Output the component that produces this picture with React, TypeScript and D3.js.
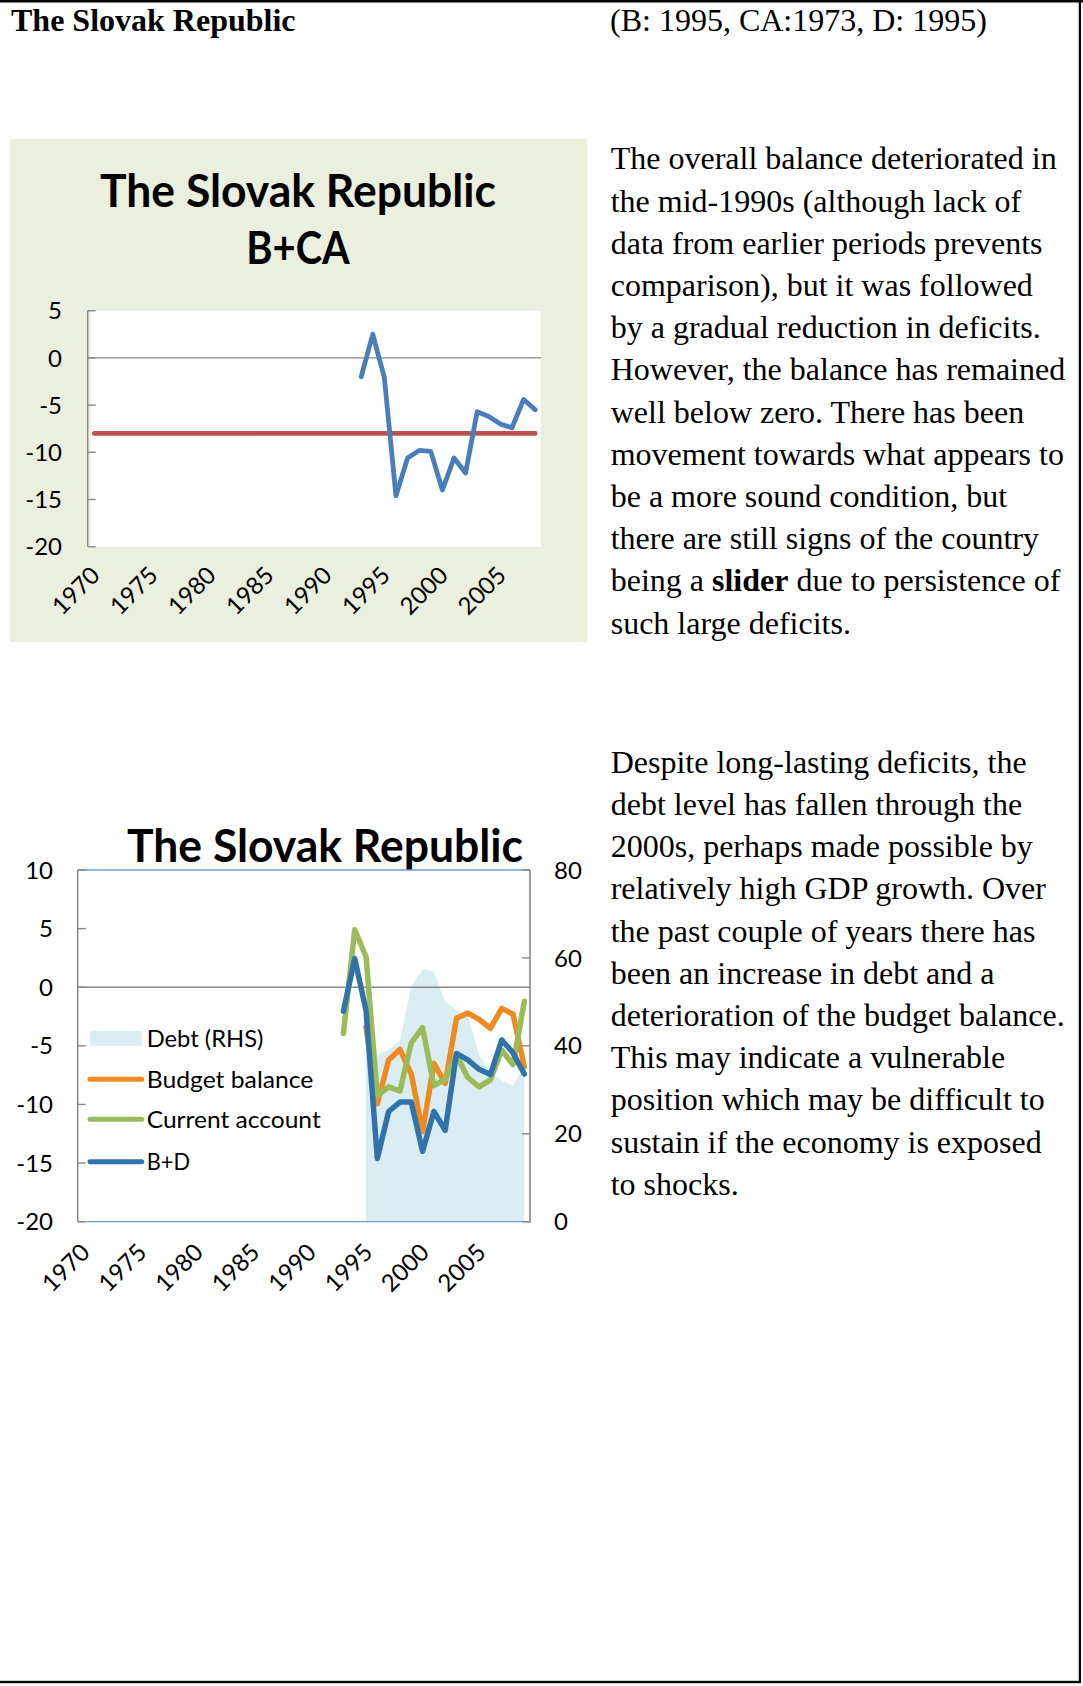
import React from "react";
import * as d3 from "d3";

const W = 1083;
const H = 1686;

// ---------- data ----------
const categories1 = [
  "1970","1971","1972","1973","1974","1975","1976","1977","1978","1979",
  "1980","1981","1982","1983","1984","1985","1986","1987","1988","1989",
  "1990","1991","1992","1993","1994","1995","1996","1997","1998","1999",
  "2000","2001","2002","2003","2004","2005","2006","2007","2008",
];
const categories2 = [
  "1970","1971","1972","1973","1974","1975","1976","1977","1978","1979",
  "1980","1981","1982","1983","1984","1985","1986","1987","1988","1989",
  "1990","1991","1992","1993","1994","1995","1996","1997","1998","1999",
  "2000","2001","2002","2003","2004","2005","2006","2007","2008","2009",
];
const xTickLabels = ["1970","1975","1980","1985","1990","1995","2000","2005"];
const yTicks1 = [5, 0, -5, -10, -15, -20];
const yTicksLeft2 = [10, 5, 0, -5, -10, -15, -20];
const yTicksRight2 = [80, 60, 40, 20, 0];

// Chart 1: B+CA
const bcaYears = ["1993","1994","1995","1996","1997","1998","1999","2000","2001","2002","2003","2004","2005","2006","2007","2008"];
const bcaValues = [-2.0, 2.5, -2.1, -14.6, -10.6, -9.8, -9.9, -14.0, -10.6, -12.2, -5.7, -6.2, -7.0, -7.4, -4.4, -5.5];
const benchmarkValue = -8;

// Chart 2
const bdYears = ["1993","1994","1995","1996","1997","1998","1999","2000","2001","2002","2003","2004","2005","2006","2007","2008","2009"];
const bdValues = [-2.05, 2.45, -2.0, -14.6, -10.6, -9.8, -9.8, -14.0, -10.6, -12.2, -5.65, -6.2, -7.0, -7.45, -4.5, -5.6, -7.4];
const caValues = [-3.95, 4.9, 2.6, -9.25, -8.5, -8.85, -4.75, -3.45, -8.4, -7.85, -5.8, -7.7, -8.5, -7.9, -5.35, -6.6, -1.2];
const budgetYears = ["1995","1996","1997","1998","1999","2000","2001","2002","2003","2004","2005","2006","2007","2008","2009"];
const budgetValues = [-3.4, -9.95, -6.2, -5.3, -7.4, -12.3, -6.5, -8.2, -2.65, -2.2, -2.75, -3.5, -1.8, -2.3, -6.8];
const debtValues = [37.5, 37.9, 39.1, 41.3, 53.5, 57.4, 56.9, 50.0, 48.2, 47.0, 37.9, 33.8, 32.2, 30.9, 35.3];

const legendLabels = ["Debt (RHS)", "Budget balance", "Current account", "B+D"];

const para1: (string | { b: string })[][] = [
  ["The overall balance deteriorated in"],
  ["the mid-1990s (although lack of"],
  ["data from earlier periods prevents"],
  ["comparison), but it was followed"],
  ["by a gradual reduction in deficits."],
  ["However, the balance has remained"],
  ["well below zero. There has been"],
  ["movement towards what appears to"],
  ["be a more sound condition, but"],
  ["there are still signs of the country"],
  ["being a ", { b: "slider" }, " due to persistence of"],
  ["such large deficits."],
];
const para2: string[] = [
  "Despite long-lasting deficits, the",
  "debt level has fallen through the",
  "2000s, perhaps made possible by",
  "relatively high GDP growth. Over",
  "the past couple of years there has",
  "been an increase in debt and a",
  "deterioration of the budget balance.",
  "This may indicate a vulnerable",
  "position which may be difficult to",
  "sustain if the economy is exposed",
  "to shocks.",
];

// ---------- styles ----------
const SERIF = "'Liberation Serif', 'Times New Roman', serif";
const SANS = "Lato, 'Open Sans', sans-serif";
const AXIS = "#878787";
const TICK_FS = 24;

export default function App() {
  // Chart 1 scales
  const x1 = d3.scalePoint<string>().domain(categories1).range([88.5, 541]).padding(0.5);
  const y1 = d3.scaleLinear().domain([-20, 5]).range([546.7, 310.7]);
  const line1 = d3
    .line<[string, number]>()
    .x((d) => x1(d[0]) as number)
    .y((d) => y1(d[1]));
  const bcaPts: [string, number][] = bcaYears.map((yr, i) => [yr, bcaValues[i]]);
  const benchPts: [string, number][] = [
    [categories1[0], benchmarkValue],
    [categories1[categories1.length - 1], benchmarkValue],
  ];

  // Chart 2 scales
  const L2 = 77.7, R2 = 530, T2 = 870, B2 = 1221.7;
  const x2 = d3.scalePoint<string>().domain(categories2).range([L2, R2]).padding(0.5);
  const y2 = d3.scaleLinear().domain([-20, 10]).range([B2, T2]);
  const y2r = d3.scaleLinear().domain([0, 80]).range([B2, T2]);
  const line2 = d3
    .line<[string, number]>()
    .x((d) => x2(d[0]) as number)
    .y((d) => y2(d[1]));
  const area2 = d3
    .area<[string, number]>()
    .x((d) => x2(d[0]) as number)
    .y0(y2r(0))
    .y1((d) => y2r(d[1]));
  const debtPts: [string, number][] = budgetYears.map((yr, i) => [yr, debtValues[i]]);
  const budgetPts: [string, number][] = budgetYears.map((yr, i) => [yr, budgetValues[i]]);
  const caPts: [string, number][] = bdYears.map((yr, i) => [yr, caValues[i]]);
  const bdPts: [string, number][] = bdYears.map((yr, i) => [yr, bdValues[i]]);

  const legendColors = ["#DAEDF3", "#EF8A22", "#9BBB59", "#3172AA"];
  const legendY = [1038.4, 1079.3, 1119.3, 1161.7];
  const legendTextLen = [116.7, 166.7, 174, 43.3];

  return (
    <div style={{ position: "absolute", left: 0, top: 0 }}>
      <svg width={W} height={H} viewBox={`0 0 ${W} ${H}`} style={{ display: "block", background: "#fff" }}>
        {/* page borders */}
        <rect x={0} y={0} width={W} height={2.5} fill="#000" />
        <rect x={1078.8} y={0} width={2.2} height={1683} fill="#000" />
        <rect x={0} y={1680.8} width={1081} height={2.4} fill="#000" />

        {/* header */}
        <text x={11} y={31} fontFamily={SERIF} fontSize={32} fontWeight="bold" fill="#000">
          The Slovak Republic
        </text>
        <text x={610} y={31} fontFamily={SERIF} fontSize={32} fill="#000">
          (B: 1995, CA:1973, D: 1995)
        </text>

        {/* ---------- Chart 1 ---------- */}
        <rect x={10} y={139} width={577} height={503} fill="#EBEFDE" />
        <rect x={90.7} y={310.7} width={450.3} height={236} fill="#fff" />
        <text x={298} y={206.5} textAnchor="middle" fontFamily={SANS} fontWeight="bold" fontSize={45}
          textLength={396} lengthAdjust="spacingAndGlyphs" fill="#000">
          The Slovak Republic
        </text>
        <text x={298} y={263.5} textAnchor="middle" fontFamily={SANS} fontWeight="bold" fontSize={45}
          textLength={103.5} lengthAdjust="spacingAndGlyphs" fill="#000">
          B+CA
        </text>
        {/* zero line */}
        <line x1={87.7} x2={541} y1={y1(0)} y2={y1(0)} stroke={AXIS} strokeWidth={1.4} />
        {/* y axis */}
        <line x1={87.7} x2={87.7} y1={y1(5)} y2={y1(-20)} stroke={AXIS} strokeWidth={1.4} />
        {yTicks1.map((t) => (
          <g key={"y1" + t}>
            <line x1={87.7} x2={95.7} y1={y1(t)} y2={y1(t)} stroke={AXIS} strokeWidth={1.4} />
            <text x={62} y={y1(t)} dy="0.36em" textAnchor="end" fontFamily={SANS} fontSize={TICK_FS} fill="#000">
              {t}
            </text>
          </g>
        ))}
        {xTickLabels.map((lab) => {
          const cx = x1(lab) as number;
          return (
            <text key={"x1" + lab} transform={`translate(${cx + 1},${546.7 + 24}) rotate(-45)`} dy="0.36em"
              textAnchor="end" fontFamily={SANS} fontSize={TICK_FS} fill="#000">
              {lab}
            </text>
          );
        })}
        <path d={line1(benchPts) || ""} fill="none" stroke="#C0504D" strokeWidth={4.6} strokeLinecap="round" />
        <path d={line1(bcaPts) || ""} fill="none" stroke="#4A7EBB" strokeWidth={4.8} strokeLinecap="round" strokeLinejoin="round" />

        {/* chart 1 text */}
        <g fontFamily={SERIF} fontSize={32} fill="#000">
          {para1.map((ln, i) => (
            <text key={"p1" + i} x={610.7} y={169.3 + i * 42.2}>
              {ln.map((part, j) =>
                typeof part === "string" ? (
                  <tspan key={j}>{part}</tspan>
                ) : (
                  <tspan key={j} fontWeight="bold">{part.b}</tspan>
                )
              )}
            </text>
          ))}
        </g>

        {/* ---------- Chart 2 ---------- */}
        <text x={325} y={861.7} textAnchor="middle" fontFamily={SANS} fontWeight="bold" fontSize={45}
          textLength={396} lengthAdjust="spacingAndGlyphs" fill="#000">
          The Slovak Republic
        </text>
        <path d={area2(debtPts) || ""} fill="#DAEDF3" stroke="none" />
        {/* plot border top/bottom */}
        <line x1={L2} x2={R2} y1={T2} y2={T2} stroke="#6E9CD3" strokeWidth={1.3} />
        <line x1={L2} x2={R2} y1={B2} y2={B2} stroke="#6E9CD3" strokeWidth={1.3} />
        {/* zero line */}
        <line x1={L2} x2={R2} y1={y2(0)} y2={y2(0)} stroke={AXIS} strokeWidth={1.4} />
        {/* left axis */}
        <line x1={L2} x2={L2} y1={T2} y2={B2} stroke={AXIS} strokeWidth={1.5} />
        {yTicksLeft2.map((t) => (
          <g key={"yl" + t}>
            <line x1={L2} x2={L2 + 8} y1={y2(t)} y2={y2(t)} stroke={AXIS} strokeWidth={1.4} />
            <text x={53} y={y2(t)} dy="0.36em" textAnchor="end" fontFamily={SANS} fontSize={TICK_FS} fill="#000">
              {t}
            </text>
          </g>
        ))}
        {/* right axis */}
        <line x1={R2} x2={R2} y1={T2} y2={B2 + 1} stroke={AXIS} strokeWidth={1.6} />
        {yTicksRight2.map((t) => (
          <g key={"yr" + t}>
            <line x1={R2 - 8} x2={R2} y1={y2r(t)} y2={y2r(t)} stroke={AXIS} strokeWidth={1.4} />
            <text x={554} y={y2r(t)} dy="0.36em" textAnchor="start" fontFamily={SANS} fontSize={TICK_FS} fill="#000">
              {t}
            </text>
          </g>
        ))}
        {xTickLabels.map((lab) => {
          const cx = x2(lab) as number;
          return (
            <text key={"x2" + lab} transform={`translate(${cx + 2},${B2 + 26}) rotate(-45)`} dy="0.36em"
              textAnchor="end" fontFamily={SANS} fontSize={TICK_FS} fill="#000">
              {lab}
            </text>
          );
        })}
        <path d={line2(budgetPts) || ""} fill="none" stroke="#EF8A22" strokeWidth={5.5} strokeLinecap="round" strokeLinejoin="round" />
        <path d={line2(caPts) || ""} fill="none" stroke="#9BBB59" strokeWidth={5.5} strokeLinecap="round" strokeLinejoin="round" />
        <path d={line2(bdPts) || ""} fill="none" stroke="#3172AA" strokeWidth={5.5} strokeLinecap="round" strokeLinejoin="round" />

        {/* legend */}
        {legendLabels.map((lab, i) => (
          <g key={"lg" + i}>
            {i === 0 ? (
              <rect x={90} y={legendY[i] - 7.4} width={51.7} height={14.8} fill={legendColors[i]} />
            ) : (
              <line x1={90} x2={141.7} y1={legendY[i]} y2={legendY[i]} stroke={legendColors[i]} strokeWidth={5} strokeLinecap="round" />
            )}
            <text x={146.7} y={legendY[i]} dy="0.36em" fontFamily={SANS} fontSize={24}
              textLength={legendTextLen[i]} lengthAdjust="spacingAndGlyphs" fill="#000">
              {lab}
            </text>
          </g>
        ))}

        {/* chart 2 text */}
        <g fontFamily={SERIF} fontSize={32} fill="#000">
          {para2.map((ln, i) => (
            <text key={"p2" + i} x={610.7} y={772.7 + i * 42.2}>
              {ln}
            </text>
          ))}
        </g>
      </svg>
    </div>
  );
}
